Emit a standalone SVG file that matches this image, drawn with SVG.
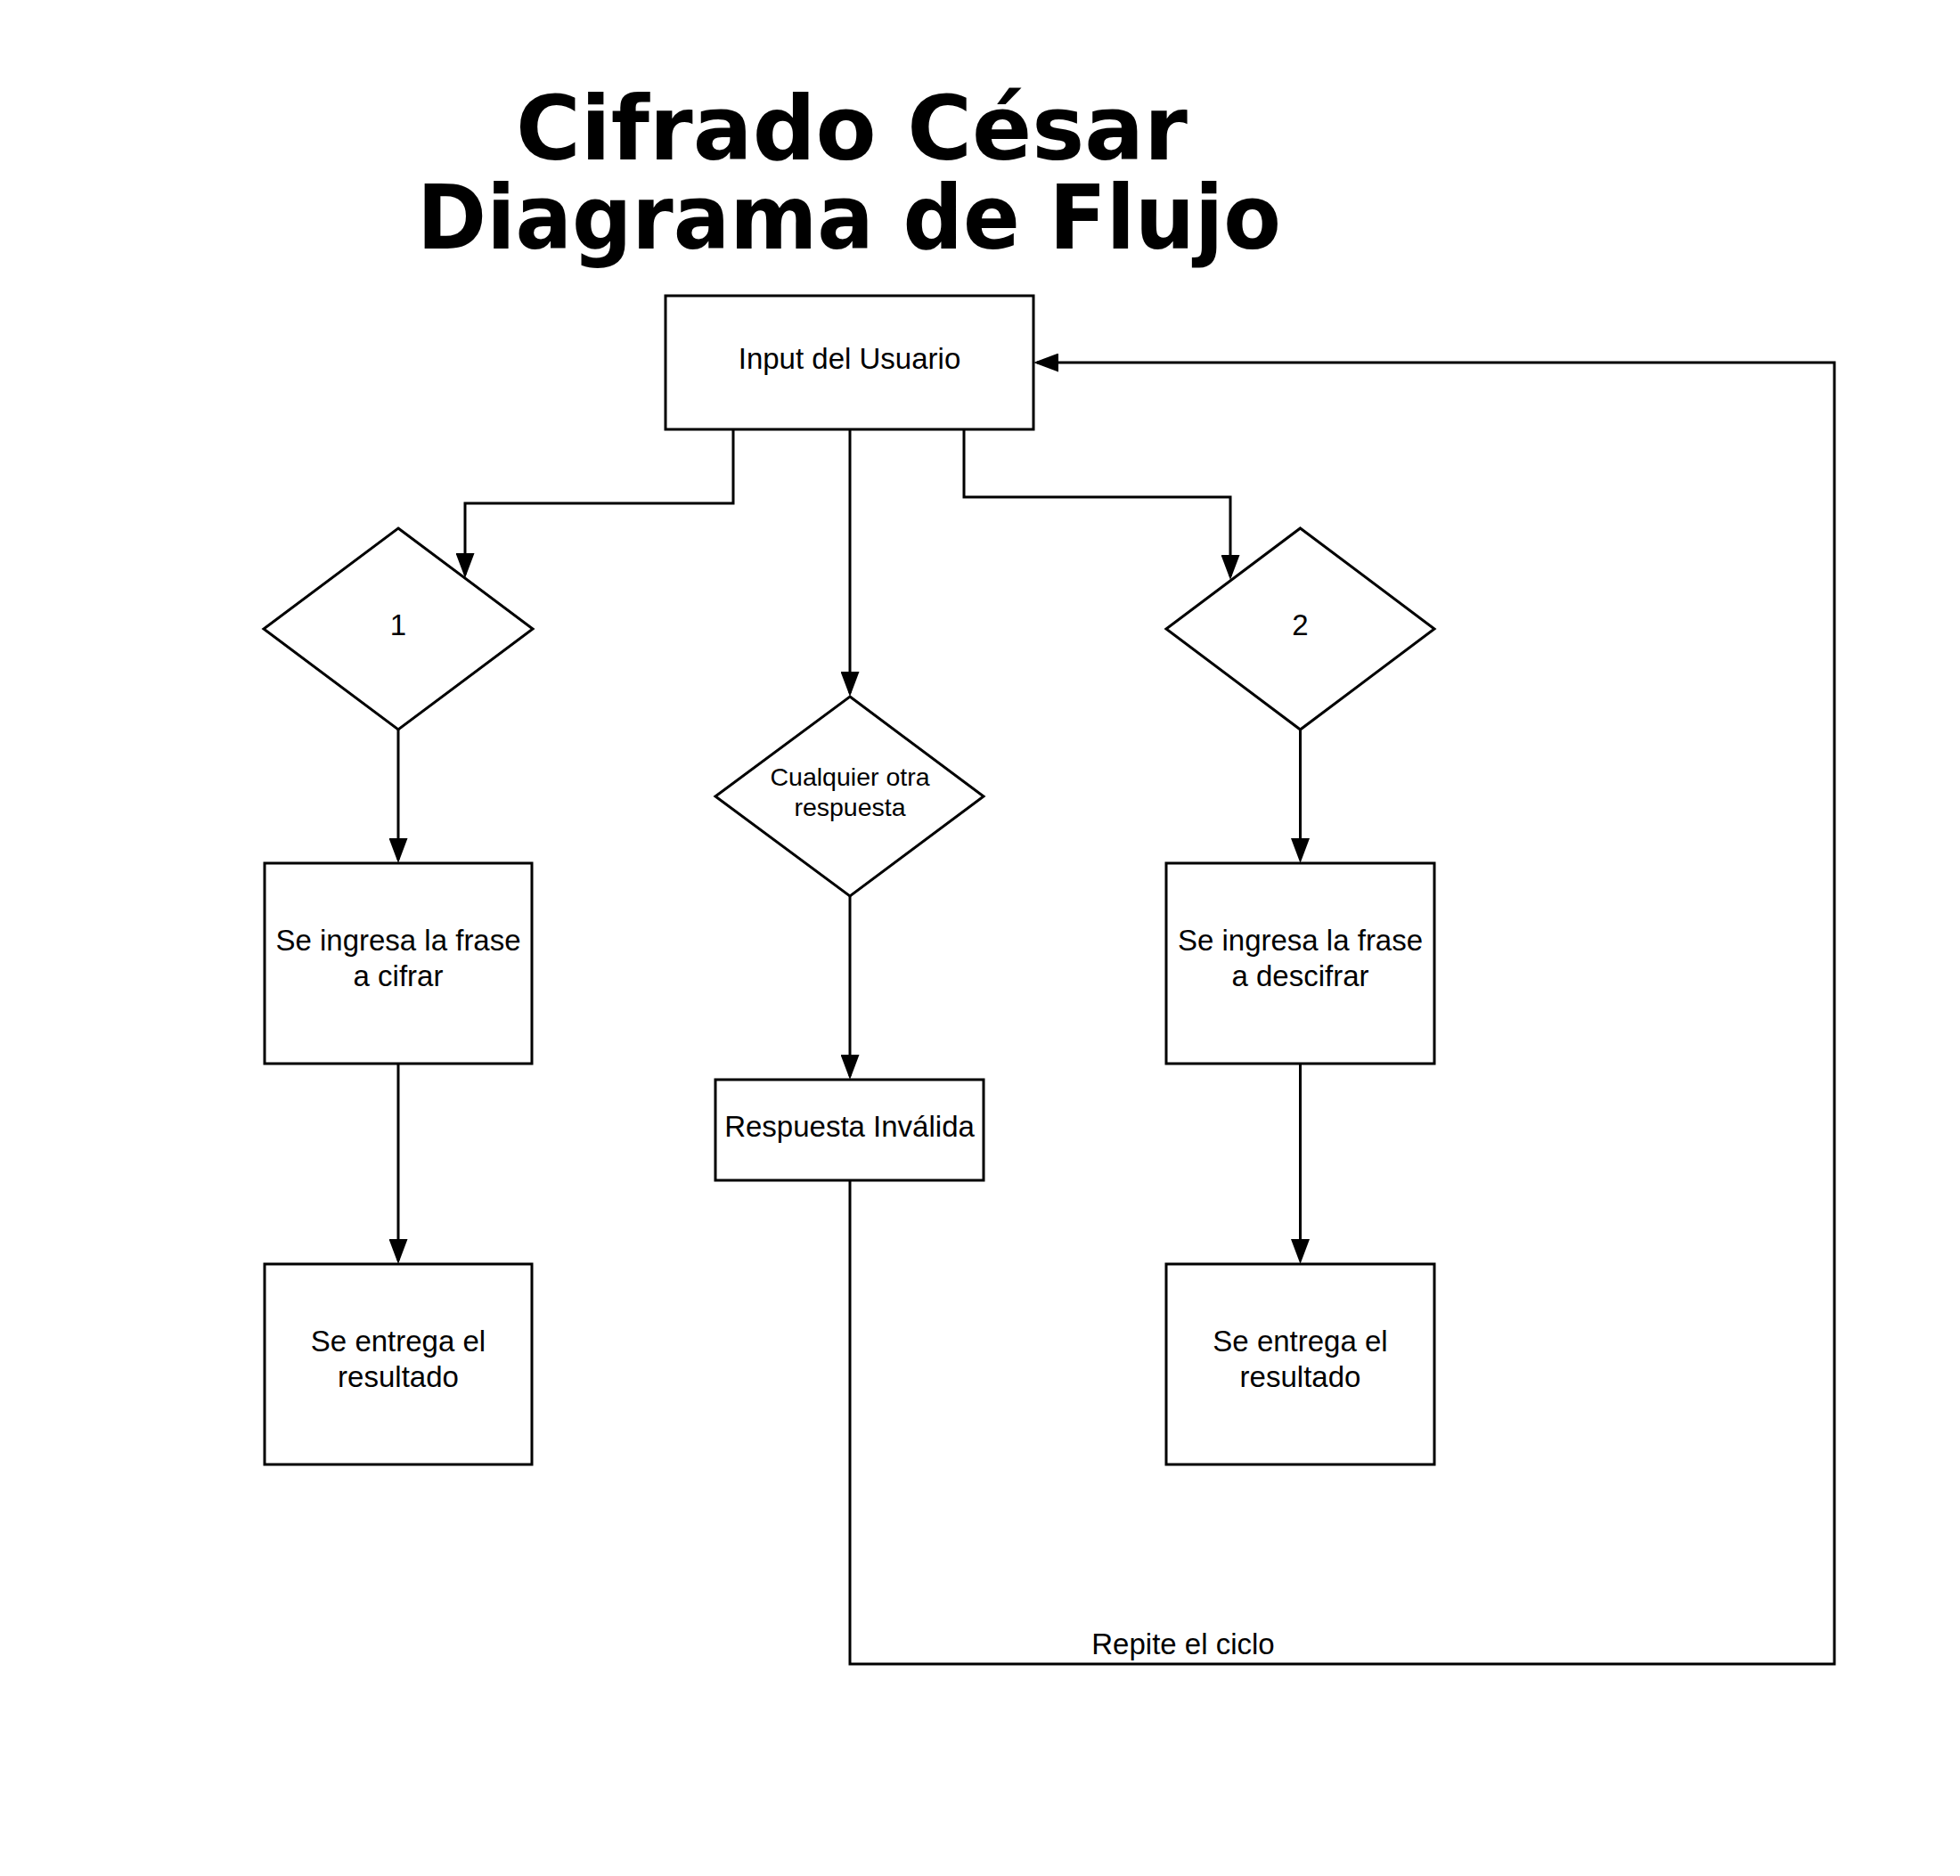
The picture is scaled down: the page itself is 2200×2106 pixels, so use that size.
<svg xmlns="http://www.w3.org/2000/svg" width="2200" height="2106" viewBox="0 0 2200 2106">
  <style>
    .shape { fill: #ffffff; stroke: #000000; stroke-width: 3; }
    .conn { fill: none; stroke: #000000; stroke-width: 3; stroke-linecap: butt; stroke-linejoin: miter; }
    .lbl { font-family: "Liberation Sans", Arial, sans-serif; font-size: 33px; fill: #000000; text-anchor: middle; }
    .lbl-sm { font-family: "Liberation Sans", Arial, sans-serif; font-size: 28.5px; fill: #000000; text-anchor: middle; }
    .title { font-family: "DejaVu Sans", "Liberation Sans", sans-serif; font-weight: bold; font-size: 100px; fill: #000000; }
  </style>
  <defs>
    <marker id="arrow" markerUnits="userSpaceOnUse" markerWidth="28" markerHeight="21" refX="24" refY="10.5" orient="auto" viewBox="0 0 28 21">
      <path d="M0,0 L28,10.5 L0,21 Z" fill="#000000"/>
    </marker>
  </defs>
  <rect x="0" y="0" width="2200" height="2106" fill="#ffffff"/>

  <g id="title">
    <text class="title"><tspan x="579" y="179" textLength="754" lengthAdjust="spacingAndGlyphs">Cifrado César</tspan><tspan x="468" y="279" textLength="970" lengthAdjust="spacingAndGlyphs">Diagrama de Flujo</tspan></text>
  </g>

  <g id="connectors">
    <path class="conn" d="M823,482 V565 H522 V645" marker-end="url(#arrow)"/>
    <path class="conn" d="M954,482 V778" marker-end="url(#arrow)"/>
    <path class="conn" d="M1082,482 V558 H1381 V647" marker-end="url(#arrow)"/>
    <path class="conn" d="M447,819 V965" marker-end="url(#arrow)"/>
    <path class="conn" d="M447,1194 V1415" marker-end="url(#arrow)"/>
    <path class="conn" d="M1459.5,819 V965" marker-end="url(#arrow)"/>
    <path class="conn" d="M1459.5,1194 V1415" marker-end="url(#arrow)"/>
    <path class="conn" d="M954,1006 V1208" marker-end="url(#arrow)"/>
    <path class="conn" d="M954,1325 V1868 H2059 V407 H1164" marker-end="url(#arrow)"/>
    <text class="lbl" x="1328" y="1857">Repite el ciclo</text>
  </g>

  <g id="input">
    <rect class="shape" x="747" y="332" width="413" height="150"/>
    <text class="lbl" x="953.5" y="414">Input del Usuario</text>
  </g>

  <g id="decision1">
    <polygon class="shape" points="447,593 598,706 447,819 296,706"/>
    <text class="lbl" x="447" y="713">1</text>
  </g>

  <g id="decision2">
    <polygon class="shape" points="1459.5,593 1610,706 1459.5,819 1309,706"/>
    <text class="lbl" x="1459.5" y="713">2</text>
  </g>

  <g id="decisionOther">
    <polygon class="shape" points="954,782 1104,894 954,1006 803,894"/>
    <text class="lbl-sm" x="954" y="882">Cualquier otra</text>
    <text class="lbl-sm" x="954" y="916">respuesta</text>
  </g>

  <g id="cifrar">
    <rect class="shape" x="297" y="969" width="300" height="225"/>
    <text class="lbl" x="447" y="1067">Se ingresa la frase</text>
    <text class="lbl" x="447" y="1107">a cifrar</text>
  </g>

  <g id="descifrar">
    <rect class="shape" x="1309" y="969" width="301" height="225"/>
    <text class="lbl" x="1459.5" y="1067">Se ingresa la frase</text>
    <text class="lbl" x="1459.5" y="1107">a descifrar</text>
  </g>

  <g id="resultado1">
    <rect class="shape" x="297" y="1419" width="300" height="225"/>
    <text class="lbl" x="447" y="1517">Se entrega el</text>
    <text class="lbl" x="447" y="1557">resultado</text>
  </g>

  <g id="resultado2">
    <rect class="shape" x="1309" y="1419" width="301" height="225"/>
    <text class="lbl" x="1459.5" y="1517">Se entrega el</text>
    <text class="lbl" x="1459.5" y="1557">resultado</text>
  </g>

  <g id="invalida">
    <rect class="shape" x="803" y="1212" width="301" height="113"/>
    <text class="lbl" x="953.5" y="1276">Respuesta Inválida</text>
  </g>
</svg>
